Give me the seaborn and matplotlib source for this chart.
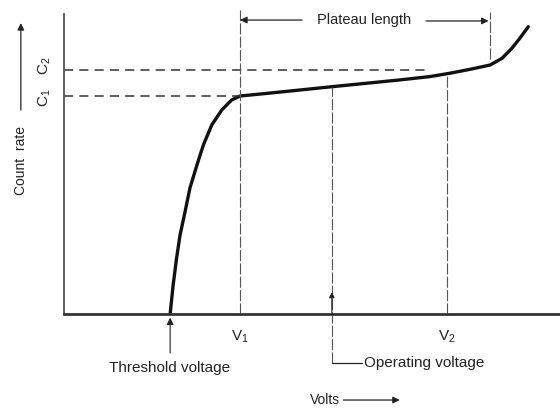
import matplotlib
matplotlib.use("Agg")
import matplotlib.pyplot as plt
import seaborn as sns
import pandas as pd

# ---- data (arbitrary units: volts 0-100, count rate 0-100) ----
volts = [21.4, 22.0, 22.7, 23.4, 24.4, 25.4, 26.8, 28.1, 29.8, 31.8, 33.8, 35.5,
         43.5, 53.6, 67.7, 73.8, 77.8, 81.9, 85.9, 88.3, 90.3, 91.9, 93.6]
count_rate = [0.0, 9.5, 18.4, 26.0, 33.6, 41.5, 49.0, 55.6, 62.2, 67.1, 70.4, 71.7,
              73.0, 74.7, 77.0, 78.1, 79.2, 80.5, 81.9, 84.1, 87.4, 90.7, 94.5]

threshold_v = 21.4
v1 = 35.5
v2 = 77.2
operating_v = 54.0
plateau_end = 85.9
c1 = 71.7
c2 = 80.3
rate_at_operating = 74.7
rate_at_v2 = 79.0

labels = {
    "plateau": "Plateau length",
    "threshold": "Threshold voltage",
    "operating": "Operating voltage",
    "xlabel": "Volts",
    "ylabel": "Count  rate",
    "v1": r"$\mathregular{V_1}$",
    "v2": r"$\mathregular{V_2}$",
    "c1": r"$\mathregular{C_1}$",
    "c2": r"$\mathregular{C_2}$",
}

sns.set_theme(style="white")
plt.rcParams["font.family"] = ["Liberation Sans", "DejaVu Sans"]

fig = plt.figure(figsize=(5.6, 4.09), dpi=100)
ax = fig.add_axes([64 / 560, (409 - 314) / 409, 496 / 560, 304 / 409])
ax.set_xlim(0, 100)
ax.set_ylim(0, 100)

df = pd.DataFrame({"volts": volts, "rate": count_rate})
sns.lineplot(data=df, x="volts", y="rate", ax=ax, color="#111111", lw=2.4,
             estimator=None, sort=False)
ax.lines[-1].set_solid_joinstyle("round")
ax.lines[-1].set_solid_capstyle("round")

ink = "#222222"
gray = "#555555"

# axes
for s in ["top", "right"]:
    ax.spines[s].set_visible(False)
ax.spines["left"].set_color(gray)
ax.spines["left"].set_linewidth(1.3)
ax.spines["left"].set_bounds(0, 98.7)
ax.spines["bottom"].set_color("#333333")
ax.spines["bottom"].set_linewidth(2.0)
ax.set_xticks([])
ax.set_yticks([])
ax.set_xlabel("")
ax.set_ylabel("")

# horizontal dashed lines at C1 and C2
ax.plot([0, v1], [c1, c1], ls=(0, (6, 4)), color="#333333", lw=1.1)
ax.plot([0, 73.0], [c2, c2], ls=(0, (6, 4)), color="#333333", lw=1.1)

# vertical guide lines
ax.plot([v1, v1], [0, 100], ls=(0, (10, 2)), color=gray, lw=0.8, clip_on=False)
ax.plot([v2, v2], [0, rate_at_v2], ls=(0, (10, 2)), color=gray, lw=0.8)
ax.plot([plateau_end, plateau_end], [84.0, 99.3], ls=(0, (10, 2)), color=gray, lw=0.8)
ax.plot([operating_v, operating_v], [-16.1, rate_at_operating], ls=(0, (10, 2)),
        color=gray, lw=0.8, clip_on=False)
ax.plot([operating_v, 60.0], [-16.1, -16.1], color=ink, lw=0.9, clip_on=False)

# plateau length arrows
ax.annotate("", xy=(v1, 96.7), xytext=(48.0, 96.7),
            arrowprops=dict(arrowstyle="-|>", color=ink, lw=0.9,
                            mutation_scale=10, shrinkA=0, shrinkB=0))
ax.annotate("", xy=(plateau_end - 0.3, 96.4), xytext=(73.0, 96.4),
            arrowprops=dict(arrowstyle="-|>", color=ink, lw=0.9,
                            mutation_scale=10, shrinkA=0, shrinkB=0))
ax.text(60.4, 96.7, labels["plateau"], ha="center", va="center",
        fontsize=10.5, color=ink)

# threshold arrow and text
ax.annotate("", xy=(threshold_v, -1.2), xytext=(threshold_v, -12.8),
            arrowprops=dict(arrowstyle="-|>", color=ink, lw=0.8,
                            mutation_scale=10, shrinkA=0, shrinkB=0),
            annotation_clip=False)
ax.text(threshold_v - 0.2, -17.6, labels["threshold"], ha="center", va="center",
        fontsize=11, color=ink)

# operating arrow and text
ax.annotate("", xy=(operating_v, 7.2), xytext=(operating_v, 0),
            arrowprops=dict(arrowstyle="-|>", color=ink, lw=0.8,
                            mutation_scale=8, shrinkA=0, shrinkB=0),
            annotation_clip=False)
ax.text(60.4, -16.1, labels["operating"], ha="left", va="center",
        fontsize=11, color=ink)

# V1 / V2 labels
ax.text(v1, -7.6, labels["v1"], ha="center", va="center", fontsize=11, color=ink)
ax.text(v2, -7.4, labels["v2"], ha="center", va="center", fontsize=11, color=ink)

# C1 / C2 labels (rotated)
ax.text(-3.9, c1 - 0.5, labels["c1"], ha="center", va="center", rotation=90,
        fontsize=11, color=ink, clip_on=False)
ax.text(-3.9, c2 + 1.5, labels["c2"], ha="center", va="center", rotation=90,
        fontsize=11, color=ink, clip_on=False)

# y axis label with arrow
ax.text(-8.6, 50.5, labels["ylabel"], ha="center", va="center", rotation=90,
        fontsize=10, color=ink, clip_on=False)
ax.annotate("", xy=(-8.7, 95.7), xytext=(-8.7, 67.1),
            arrowprops=dict(arrowstyle="-|>", color=ink, lw=0.9,
                            mutation_scale=10, shrinkA=0, shrinkB=0),
            annotation_clip=False)

# x axis label with arrow
ax.text(55.6, -28.3, labels["xlabel"], ha="right", va="center", fontsize=10, color=ink)
ax.annotate("", xy=(67.7, -28.3), xytext=(56.3, -28.3),
            arrowprops=dict(arrowstyle="-|>", color=ink, lw=0.9,
                            mutation_scale=10, shrinkA=0, shrinkB=0),
            annotation_clip=False)

fig.savefig("out.png", dpi=100, facecolor="white")
